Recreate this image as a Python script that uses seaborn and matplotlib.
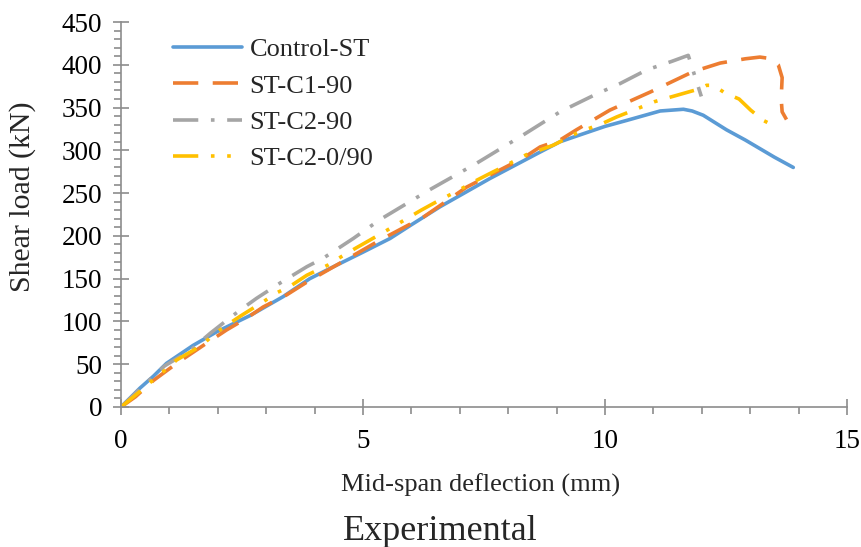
import matplotlib
matplotlib.use("Agg")
import matplotlib.pyplot as plt
from matplotlib.ticker import MultipleLocator
import numpy as np
import pandas as pd
import seaborn as sns

# Load-deflection curves of the four tested specimens
series_names = ["Control-ST", "ST-C1-90", "ST-C2-90", "ST-C2-0/90"]

control_x = [0, 0.39, 0.67, 0.94, 1.49, 1.98, 2.67, 3.35, 3.9, 4.32, 5.0, 5.56, 6.0,
             6.59, 7.62, 8.66, 9.07, 9.48, 10.0, 10.45, 11.14, 11.62, 11.8, 12.03,
             12.51, 12.9, 13.2, 13.5, 13.89]
control_y = [0, 22, 36, 51, 72, 88, 107, 129, 150, 162, 181, 197, 213,
             234, 267, 298, 310, 318, 328, 335, 346, 348, 346, 341,
             324, 312, 302, 292, 280]

c1_90_x = [0, 0.3, 0.67, 1.15, 1.7, 2.18, 2.6, 2.94, 3.42, 3.84, 4.52, 5.35, 6.25,
           7.14, 8.31, 8.66, 9.07, 9.41, 10.1, 10.93, 11.82, 12.38, 12.9, 13.2,
           13.45, 13.58, 13.66, 13.64, 13.66, 13.75]
c1_90_y = [0, 12, 31, 51, 72, 90, 104, 117, 131, 146, 168, 195, 222,
           257, 291, 304, 312, 324, 347, 368, 392, 402, 407, 409,
           407, 400, 385, 360, 345, 336]

c2_90_x = [0, 0.5, 0.9, 1.43, 1.84, 2.29, 2.53, 2.8, 3.29, 3.55, 3.84, 4.18, 4.8,
           5.35, 6.38, 7.35, 8.31, 9.07, 9.83, 10.31, 10.86, 11.38, 11.67, 11.72,
           11.99]
c2_90_y = [0, 27, 48, 66, 86, 106, 116, 127, 145, 154, 164, 174, 197,
           219, 254, 285, 318, 345, 366, 378, 394, 404, 410, 411,
           363]

c2_090_x = [0, 0.43, 0.67, 0.91, 1.15, 1.67, 1.9, 2.17, 2.46, 2.94, 3.2, 3.49, 3.84,
            4.28, 4.56, 4.86, 5.14, 5.63, 5.9, 6.2, 6.49, 7.0, 7.28, 7.59, 7.87,
            8.38, 8.64, 8.93, 9.48, 9.69, 9.97, 10.24, 10.55, 11.03, 11.34, 11.65,
            11.96, 12.1, 12.24, 12.48, 12.77, 13.01, 13.27, 13.55]
c2_090_y = [0, 20, 32, 43, 55, 72, 84, 95, 106, 123, 133, 141, 154,
            166, 176, 186, 195, 211, 220, 230, 239, 254, 263, 272, 280,
            295, 300, 306, 322, 326, 332, 339, 346, 357, 362, 367,
            372, 376, 376, 367, 360, 347, 335, 327]

x_ticks = [0, 5, 10, 15]
y_ticks = [0, 50, 100, 150, 200, 250, 300, 350, 400, 450]

frames = []
for name, xs, ys in zip(series_names,
                        [control_x, c1_90_x, c2_90_x, c2_090_x],
                        [control_y, c1_90_y, c2_90_y, c2_090_y]):
    frames.append(pd.DataFrame({"Deflection": xs, "Load": ys, "Specimen": name,
                                "order": np.arange(len(xs))}))
df = pd.concat(frames, ignore_index=True)

sns.set_style("white")
plt.rcParams["font.family"] = ["Liberation Serif", "DejaVu Serif"]

palette = {"Control-ST": "#5B9BD5", "ST-C1-90": "#ED7D31",
           "ST-C2-90": "#A5A5A5", "ST-C2-0/90": "#FFC000"}
dashes = {"Control-ST": "", "ST-C1-90": (7, 4),
          "ST-C2-90": (7, 3.5, 1, 3.5), "ST-C2-0/90": (7, 3.5, 1, 3.5, 1, 3.5)}
lw = 2.6

fig = plt.figure(figsize=(8.62, 5.47), dpi=100)
ax = fig.add_axes([121 / 862, 1 - 407 / 547, 726 / 862, 385 / 547])

sns.lineplot(data=df, x="Deflection", y="Load", hue="Specimen", style="Specimen",
             hue_order=series_names, style_order=series_names,
             palette=palette, dashes=dashes, sort=False, estimator=None,
             linewidth=lw, ax=ax)

ax.set_xlim(0, 15)
ax.set_ylim(0, 450)
ax.set_xticks(x_ticks)
ax.set_yticks(y_ticks)
ax.xaxis.set_minor_locator(MultipleLocator(1))
ax.yaxis.set_minor_locator(MultipleLocator(10))

axis_col = "#8C8C8C"
for side in ["top", "right"]:
    ax.spines[side].set_visible(False)
for side in ["left", "bottom"]:
    ax.spines[side].set_color(axis_col)
    ax.spines[side].set_linewidth(1.2)

ax.tick_params(axis="both", which="both", bottom=True, left=True,
               top=False, right=False)
ax.tick_params(axis="both", which="major", direction="inout", length=11,
               width=1.2, color=axis_col, labelsize=19.5, labelcolor="black")
ax.tick_params(axis="both", which="minor", direction="out", length=5,
               width=1.2, color=axis_col)
ax.tick_params(axis="x", which="major", pad=10)
ax.tick_params(axis="y", which="major", pad=8)

ax.set_xlabel("")
ax.set_ylabel("Shear load (kN)", fontsize=21.5)
ax.yaxis.set_label_coords(-0.117, 0.545)

fig.text(481 / 862, 1 - 492 / 547, "Mid-span deflection (mm)", fontsize=19,
         ha="center", va="baseline")
fig.text(440 / 862, 1 - 540 / 547, "Experimental", fontsize=26,
         ha="center", va="baseline")

leg = ax.legend(loc="upper left", bbox_to_anchor=(52 / 726, 1 - 16 / 385),
                frameon=False, fontsize=19, handlelength=2.6, handletextpad=0.3,
                labelspacing=0.48, borderpad=0, borderaxespad=0)
for line in leg.get_lines():
    line.set_linewidth(lw)

fig.savefig("out.png", dpi=100)
